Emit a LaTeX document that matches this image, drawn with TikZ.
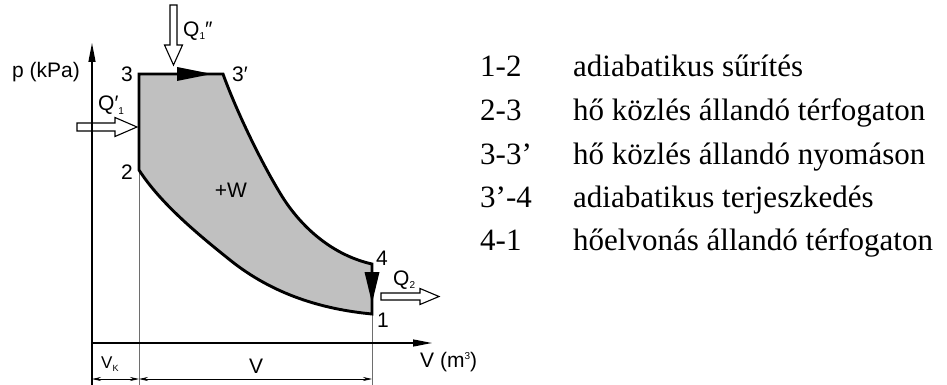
\documentclass[tikz,border=0pt]{standalone}
\usepackage{fontspec}
\setmainfont{Liberation Serif}
\newfontfamily\lsans{Liberation Sans}
\usetikzlibrary{arrows.meta}
\definecolor{fillgray}{RGB}{192,192,192}
\definecolor{thingray}{RGB}{110,110,110}
\newcommand{\mysub}[2][10]{\raisebox{-3pt}{\fontsize{#1}{#1}\selectfont #2}}
\newcommand{\mysup}[2][10]{\raisebox{8pt}{\fontsize{#1}{#1}\selectfont #2}}
\begin{document}
\begin{tikzpicture}[x=1pt,y=-1pt,
  lab/.style={font=\lsans\fontsize{21}{25}\selectfont, inner sep=0pt, anchor=base},
  legend/.style={font=\fontsize{31}{37}\selectfont, inner sep=0pt, anchor=base west},
  cycleline/.style={line width=2.9pt, line join=miter, fill=fillgray},
  axisline/.style={line width=1.3pt, -{Triangle[length=19pt,width=7pt]}},
  guide/.style={line width=0.7pt, draw=thingray},
  dimline/.style={line width=0.7pt, {Stealth[length=9pt,width=4pt]}-{Stealth[length=9pt,width=4pt]}},
  hollow/.style={draw=black, line width=1.1pt, fill=white, line join=miter},
  tri/.style={fill=black, draw=none}]
\useasboundingbox (0,0) rectangle (947,385);

% key points
\coordinate (O) at (92,343);
\coordinate (ptop) at (92,43);
\coordinate (pbot) at (92,385);
\coordinate (vend) at (432,343);
\coordinate (p2) at (139,170);
\coordinate (p3) at (139,74);
\coordinate (p3b) at (223,74);
\coordinate (um) at (280,193);
\coordinate (p4) at (372,264);
\coordinate (p1) at (372,314);
\coordinate (lm) at (230,260);
\coordinate (g2) at (139,385);
\coordinate (g1) at (372,385);
\coordinate (dA) at (92,379);
\coordinate (dB) at (139,379);
\coordinate (dC) at (372,379);

% guide lines
\draw[guide] (p2) -- (g2);
\draw[guide] (p1) -- (g1);

% hollow heat arrows
\draw[hollow] (170,5) -- (177,5) -- (177,45) -- (182.5,45) -- (173.5,65) -- (164.5,45) -- (170,45) -- cycle;
\draw[hollow] (77,123) -- (115,123) -- (115,117.5) -- (137,127) -- (115,136.5) -- (115,131) -- (77,131) -- cycle;
\draw[hollow] (381,293) -- (420,293) -- (420,288.5) -- (439,296.5) -- (420,304.5) -- (420,300) -- (381,300) -- cycle;

% axes
\draw[axisline] (pbot) -- (ptop);
\draw[axisline] (O) -- (vend);

% dimension lines
\draw[dimline] (dA) -- (dB);
\draw[dimline] (dB) -- (dC);

% cycle
\draw[cycleline] (p2) -- (p3) -- (p3b)
  .. controls (236,110) and (260,160) .. (um)
  .. controls (300.5,227.4) and (333,255.3) .. (p4)
  -- (p1)
  .. controls (322,309.2) and (272.9,294.4) .. (lm)
  .. controls (198.8,235) and (160.6,203.6) .. (p2)
  -- cycle;

% direction triangles
\fill[tri] (177,67) -- (212,74) -- (177,81) -- cycle;
\fill[tri] (364.5,272) -- (372,303) -- (379.5,272) -- cycle;

% diagram labels
\node[lab, anchor=base east] (plab) at (80,78) {p (kPa)};
\node[lab] (l3) at (127,82) {3};
\node[lab, anchor=base west] (l3b) at (232,82) {3′};
\node[lab] (l2) at (127,179) {2};
\node[lab] (lW) at (231,197) {+W};
\node[lab] (l4) at (382,265) {4};
\node[lab] (l1) at (383,327) {1};
\node[lab, anchor=base west] (lq1b) at (183,37) {Q\mysub{1}″};
\node[lab, anchor=base west] (lq1a) at (98,111) {Q′\mysub{1}};
\node[lab, anchor=base west] (lq2) at (393,285) {Q\mysub{2}};
\node[lab, anchor=base west] (lV) at (420,367) {V (m\mysup{3})};
\node[lab, anchor=base west, font=\lsans\fontsize{17}{20}\selectfont] (lVk) at (101,368) {V\mysub[9]{K}};
\node[lab] (lVv) at (256,373) {V};

% legend
\node[legend] (n1) at (480,77) {1-2};
\node[legend] (t1) at (573,77) {adiabatikus sűrítés};
\node[legend] (n2) at (480,121) {2-3};
\node[legend] (t2) at (573,121) {hő közlés állandó térfogaton};
\node[legend] (n3) at (480,164) {3-3’};
\node[legend] (t3) at (573,164) {hő közlés állandó nyomáson};
\node[legend] (n4) at (480,207) {3’-4};
\node[legend] (t4) at (573,207) {adiabatikus terjeszkedés};
\node[legend] (n5) at (480,250) {4-1};
\node[legend] (t5) at (573,250) {hőelvonás állandó térfogaton};
\end{tikzpicture}
\end{document}
